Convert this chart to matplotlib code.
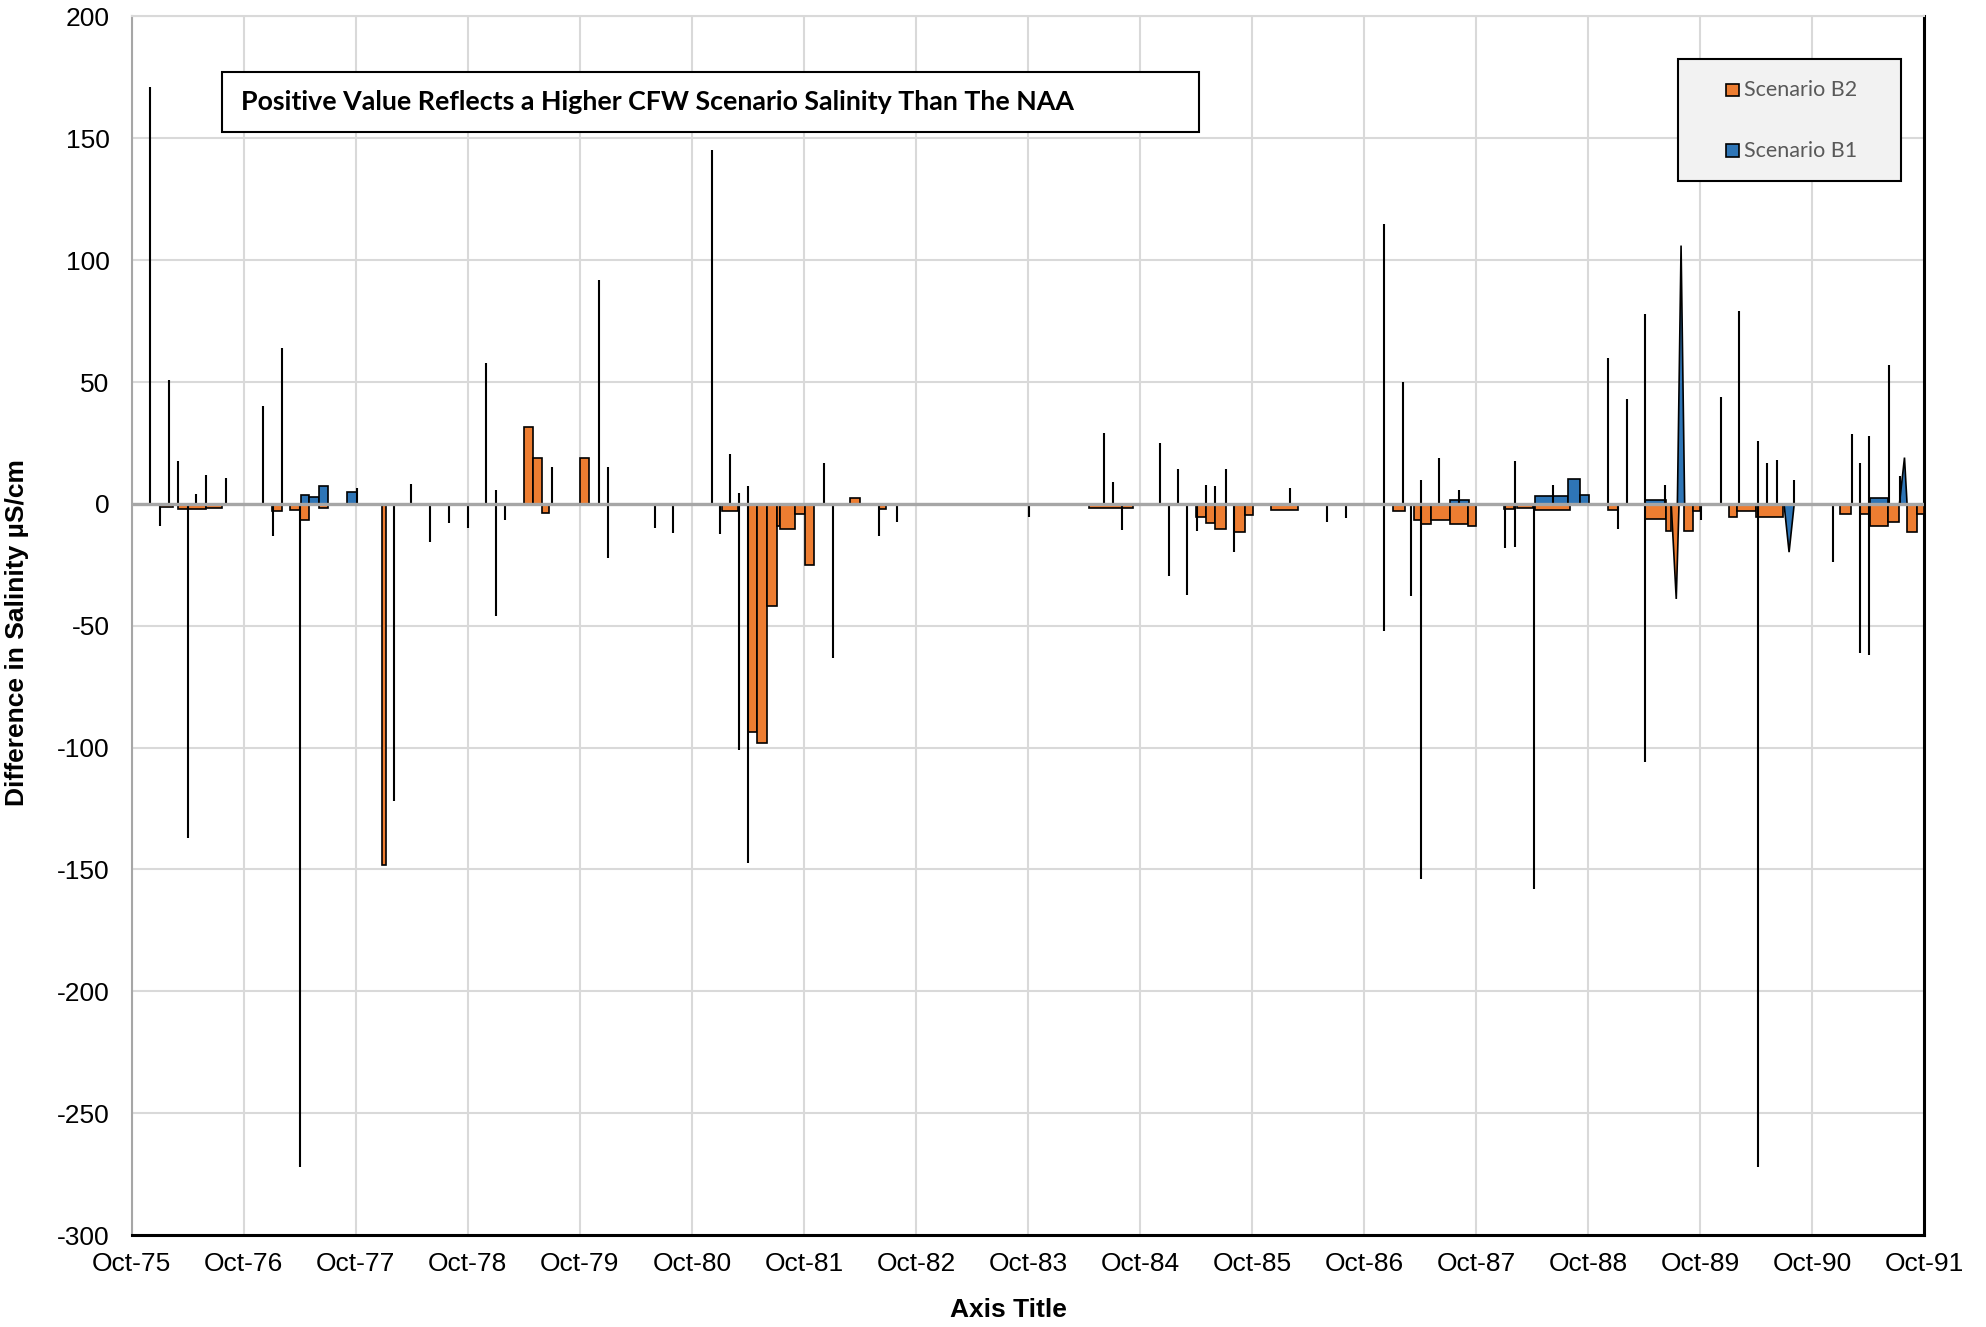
import matplotlib
matplotlib.use("Agg")
import matplotlib.pyplot as plt
from matplotlib.patches import Rectangle
import numpy as np

plt.rcParams["font.family"] = ["Liberation Sans", "DejaVu Sans"]
plt.rcParams["axes.unicode_minus"] = False

ORANGE = "#ED7D31"
BLUE = "#2E75B6"

# x values are decimal years, Oct-75 = 1975.75
tick_years = np.arange(1975.75, 1991.76, 1.0)
tick_labels = [f"Oct-{int(y) % 100:02d}" for y in tick_years]
y_ticks = np.arange(-300, 201, 50)
series_names = ["Scenario B2", "Scenario B1"]

# Scenario B2 (orange) step blocks: start, end, value
b2_start = [1976.00, 1976.166, 1976.417, 1977.000, 1977.162, 1977.253, 1977.422, 1977.985,
            1979.249, 1979.332, 1979.416, 1979.750, 1981.016, 1981.253, 1981.334, 1981.421,
            1981.507, 1981.535, 1981.673, 1981.757, 1982.165, 1982.417, 1984.292, 1985.250,
            1985.334, 1985.422, 1985.592, 1985.682, 1985.919, 1987.004, 1987.196, 1987.258,
            1987.343, 1987.512, 1987.676, 1988.002, 1988.111, 1988.270, 1988.925, 1989.253,
            1989.445, 1989.603, 1989.682, 1990.005, 1990.073, 1990.244, 1990.993, 1991.176,
            1991.266, 1991.425, 1991.595, 1991.685]
b2_end = [1976.120, 1976.417, 1976.552, 1977.088, 1977.253, 1977.332, 1977.501, 1978.020,
          1979.332, 1979.416, 1979.479, 1979.832, 1981.163, 1981.334, 1981.421, 1981.507,
          1981.535, 1981.673, 1981.757, 1981.840, 1982.254, 1982.485, 1984.688, 1985.334,
          1985.422, 1985.513, 1985.682, 1985.757, 1986.157, 1987.117, 1987.258, 1987.343,
          1987.512, 1987.676, 1987.750, 1988.089, 1988.258, 1988.587, 1989.016, 1989.445,
          1989.490, 1989.682, 1989.750, 1990.073, 1990.244, 1990.485, 1991.095, 1991.266,
          1991.425, 1991.527, 1991.685, 1991.750]
b2_value = [-1.4, -2.0, -1.5, -3.0, -2.5, -6.5, -1.8, -148.0,
            31.7, 19.0, -3.8, 18.7, -3.0, -93.4, -98.2, -42.0,
            -8.9, -10.3, -4.1, -25.0, 2.5, -2.3, -1.5, -5.5,
            -8.0, -10.3, -11.6, -4.5, -2.5, -3.0, -6.8, -8.2,
            -6.8, -8.4, -8.9, -2.0, -1.6, -2.5, -2.7, -6.2,
            -11.0, -11.0, -3.0, -5.5, -3.0, -5.5, -4.0, -4.0,
            -8.9, -7.5, -11.6, -4.0]

# Scenario B1 (blue) step blocks
b1_start = [1977.257, 1977.332, 1977.420, 1977.673, 1987.512, 1988.270, 1988.573, 1988.675,
            1989.253, 1991.266]
b1_end = [1977.332, 1977.420, 1977.501, 1977.757, 1987.682, 1988.573, 1988.675, 1988.760,
          1989.445, 1991.425]
b1_value = [3.7, 2.7, 7.4, 4.9, 1.4, 3.1, 10.3, 3.5, 1.8, 2.5]

# short peaked events: start, apex, end, value
b2_peak_start = [1989.490]
b2_peak_apex = [1989.535]
b2_peak_end = [1989.560]
b2_peak_value = [-39.0]

b1_peak_start = [1989.545, 1990.497, 1991.527]
b1_peak_apex = [1989.578, 1990.542, 1991.572]
b1_peak_end = [1989.610, 1990.588, 1991.595]
b1_peak_value = [106.0, -19.8, 19.0]

# single-day spikes (drawn as thin outlined lines)
spike_years = [1975.918, 1976.086, 1976.166, 1976.326, 1976.417, 1976.591, 1976.918, 1977.090,
               1977.757, 1978.247, 1978.916, 1979.004, 1979.501, 1979.922, 1980.005, 1980.925,
               1981.088, 1981.171, 1981.252, 1981.926, 1984.424, 1984.507, 1984.924, 1985.090,
               1985.340, 1985.422, 1985.513, 1986.089, 1986.931, 1987.097, 1987.257, 1987.421,
               1987.599, 1988.094, 1988.435, 1988.930, 1989.094, 1989.260, 1989.431, 1989.930,
               1990.097, 1990.261, 1990.347, 1990.431, 1990.587, 1991.105, 1991.176, 1991.258,
               1991.432, 1991.531,
               1976.002, 1976.255, 1977.008, 1977.254, 1978.089, 1978.411, 1978.581, 1978.753,
               1979.004, 1979.080, 1980.005, 1980.419, 1980.583, 1981.004, 1981.171, 1981.252,
               1982.005, 1982.417, 1982.583, 1983.756, 1984.590, 1985.006, 1985.170, 1985.257,
               1985.592, 1986.420, 1986.590, 1986.931, 1987.167, 1987.257, 1988.007, 1988.094,
               1988.264, 1989.016, 1989.260, 1989.756, 1990.261, 1990.934, 1991.176, 1991.258]
spike_values = [171, 51, 17.4, 4, 12, 10.5, 40, 64,
                6.7, 8, 58, 5.7, 15, 92, 15.3, 145,
                20.5, 4.4, 7.4, 16.8, 29, 8.9, 25, 14.4,
                7.8, 7.3, 14.4, 6.4, 115, 50, 10, 18.9,
                5.7, 17.4, 7.9, 60, 43, 78, 7.8, 44,
                79, 25.7, 16.8, 18.2, 9.6, 28.5, 16.8, 28,
                57, 11.6,
                -8.9, -137, -13, -272, -122, -15.7, -7.7, -10,
                -46, -6.6, -22, -9.7, -11.8, -12.4, -101, -147.5,
                -63.2, -13, -7.3, -5.2, -10.7, -29.5, -37.3, -11,
                -19.6, -7.5, -5.9, -52, -37.8, -154, -18.2, -17.5,
                -158, -10.3, -106, -6.8, -272, -24, -61, -62]

fig = plt.figure(figsize=(19.86, 13.27), dpi=100)
ax = fig.add_axes([0.0663, 0.0693, 0.9027, 0.9183])

ax.bar(b2_start, b2_value, width=np.subtract(b2_end, b2_start), align="edge",
       color=ORANGE, edgecolor="black", linewidth=1.2, zorder=3)
for s, a, e, v in zip(b2_peak_start, b2_peak_apex, b2_peak_end, b2_peak_value):
    ax.fill([s, a, e], [0, v, 0], facecolor=ORANGE, edgecolor="black", linewidth=1.2, zorder=3)

ax.bar(b1_start, b1_value, width=np.subtract(b1_end, b1_start), align="edge",
       color=BLUE, edgecolor="black", linewidth=1.2, zorder=3.5)
for s, a, e, v in zip(b1_peak_start, b1_peak_apex, b1_peak_end, b1_peak_value):
    ax.fill([s, a, e], [0, v, 0], facecolor=BLUE, edgecolor="black", linewidth=1.2, zorder=3.5)

ax.vlines(spike_years, 0, spike_values, colors="black", linewidth=1.5, zorder=4)
ax.axhline(0, color="#a6a6a6", linewidth=2.4, zorder=5)

ax.set_xlim(tick_years[0], tick_years[-1])
ax.set_ylim(-300, 200)
ax.set_xticks(tick_years)
ax.set_xticklabels(tick_labels)
ax.set_yticks(y_ticks)
ax.tick_params(axis="both", length=0, labelsize=19)
ax.tick_params(axis="y", pad=16)
ax.tick_params(axis="x", pad=12)
ax.grid(True, color="#d9d9d9", linewidth=1.5, zorder=0)
ax.set_axisbelow(True)

ax.spines["bottom"].set_color("black")
ax.spines["bottom"].set_linewidth(2.2)
ax.spines["right"].set_color("black")
ax.spines["right"].set_linewidth(2.2)
ax.spines["left"].set_color("#a6a6a6")
ax.spines["left"].set_linewidth(1.5)
ax.spines["top"].set_color("#d9d9d9")
ax.spines["top"].set_linewidth(1.5)

ax.set_xlabel("Axis Title", fontsize=19, fontweight="bold")
ax.set_ylabel("Difference in Salinity µS/cm", fontsize=19, fontweight="bold")
ax.xaxis.set_label_coords(0.489, -0.052)
ax.yaxis.set_label_coords(-0.057, 0.494)

# note box
ax.add_patch(Rectangle((0.0502, 0.9052), 0.5452, 0.0493, transform=ax.transAxes,
                       facecolor="white", edgecolor="black", linewidth=1.5, zorder=6))
ax.text(0.0608, 0.9298, "Positive Value Reflects a Higher CFW Scenario Salinity Than The NAA",
        transform=ax.transAxes, ha="left", va="center", fontsize=19.3, fontweight="bold",
        family="Lato", zorder=7)

# legend box
ax.add_patch(Rectangle((0.8623, 0.865), 0.1248, 0.0997, transform=ax.transAxes,
                       facecolor="#f2f2f2", edgecolor="black", linewidth=1.5, zorder=6))
for name, color, yc in zip(series_names, [ORANGE, BLUE], [0.9397, 0.8899]):
    ax.add_patch(Rectangle((0.8893, yc - 0.0052), 0.0070, 0.0104, transform=ax.transAxes,
                           facecolor=color, edgecolor="black", linewidth=1.2, zorder=7))
    ax.text(0.8991, yc, name, transform=ax.transAxes, ha="left", va="center",
            fontsize=15.5, family="Lato", color="#595959", zorder=7)

fig.savefig("out.png", dpi=100)
